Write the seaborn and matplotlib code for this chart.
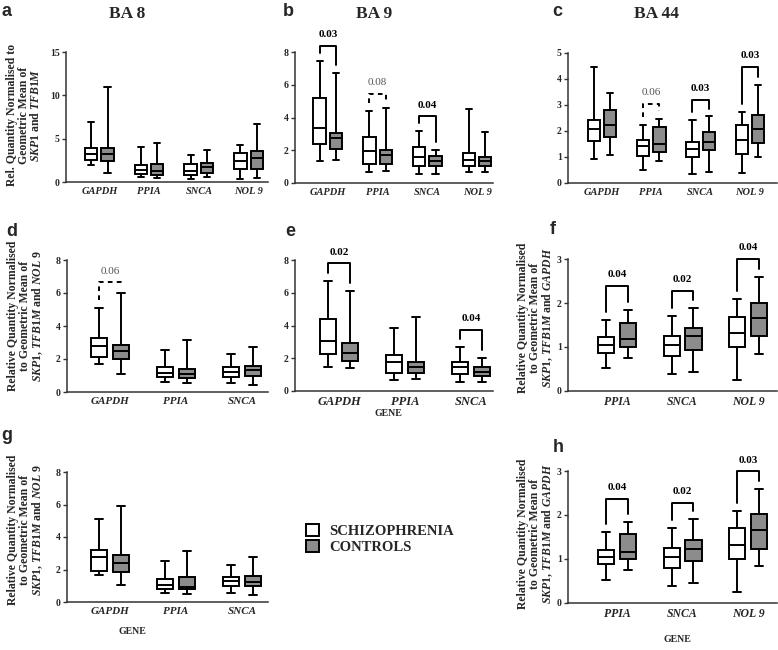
import numpy as np
import pandas as pd
import matplotlib
matplotlib.use("Agg")
import matplotlib.pyplot as plt
import seaborn as sns

sns.set_style("ticks")
plt.rcParams["font.family"] = ["Liberation Serif", "DejaVu Serif"]
plt.rcParams["font.weight"] = "bold"
plt.rcParams["mathtext.fontset"] = "custom"
plt.rcParams["mathtext.it"] = "Liberation Serif:italic:bold"
plt.rcParams["mathtext.rm"] = "Liberation Serif:bold"
plt.rcParams["mathtext.bf"] = "Liberation Serif:bold"

W, H = 778, 650
GROUPS = ["SCHIZOPHRENIA", "CONTROLS"]
COLORS = {"SCHIZOPHRENIA": "white", "CONTROLS": "#8c8c8c"}

# five-number summaries per gene: min, q1, median, q3, max
genes_abc = ["GAPDH", "PPIA", "SNCA", "NOL 9"]
genes_deg = ["GAPDH", "PPIA", "SNCA"]
genes_fh = ["PPIA", "SNCA", "NOL 9"]

a_scz = [[2.00, 2.58, 3.23, 3.92, 6.92], [0.54, 0.92, 1.42, 2.00, 4.00],
         [0.31, 0.77, 1.31, 2.08, 3.15], [0.38, 1.54, 2.38, 3.31, 4.23]]
a_ctl = [[1.08, 2.46, 3.23, 3.92, 10.92], [0.46, 0.77, 1.31, 2.12, 4.46],
         [0.54, 1.00, 1.77, 2.23, 3.69], [0.46, 1.46, 2.77, 3.54, 6.69]]

b_scz = [[1.34, 2.40, 3.36, 5.21, 7.45], [0.65, 1.18, 1.96, 2.79, 4.38],
         [0.53, 1.06, 1.59, 2.20, 3.16], [0.67, 1.04, 1.43, 1.83, 4.50]]
b_ctl = [[1.38, 2.06, 2.75, 3.08, 6.72], [0.73, 1.18, 1.69, 2.00, 4.60],
         [0.53, 1.04, 1.32, 1.65, 2.04], [0.67, 1.04, 1.34, 1.59, 3.10]]

c_scz = [[0.94, 1.60, 2.06, 2.41, 4.46], [0.51, 1.03, 1.41, 1.64, 2.24],
         [0.36, 1.00, 1.32, 1.58, 2.42], [0.38, 1.13, 1.64, 2.22, 2.73]]
c_ctl = [[1.06, 1.77, 2.22, 2.79, 3.46], [0.83, 1.19, 1.51, 2.15, 2.47],
         [0.42, 1.28, 1.58, 1.96, 2.56], [1.00, 1.54, 2.09, 2.60, 3.76]]

d_scz = [[1.68, 2.13, 2.79, 3.28, 5.10], [0.61, 0.91, 1.15, 1.52, 2.53],
         [0.55, 0.91, 1.19, 1.52, 2.31]]
d_ctl = [[1.11, 2.02, 2.49, 2.83, 5.97], [0.55, 0.85, 1.07, 1.42, 3.18],
         [0.45, 0.99, 1.32, 1.60, 2.73]]

e_scz = [[1.49, 2.24, 3.05, 4.38, 6.74], [0.67, 1.08, 1.79, 2.20, 3.83],
         [0.57, 1.04, 1.49, 1.79, 2.71]]
e_ctl = [[1.38, 1.85, 2.30, 2.91, 6.13], [0.71, 1.08, 1.49, 1.79, 4.50],
         [0.55, 0.94, 1.18, 1.49, 2.02]]

f_scz = [[0.52, 0.87, 1.05, 1.22, 1.62], [0.39, 0.80, 1.05, 1.24, 1.71],
         [0.24, 0.99, 1.31, 1.68, 2.09]]
f_ctl = [[0.74, 0.99, 1.18, 1.54, 1.85], [0.44, 0.93, 1.24, 1.43, 1.88],
         [0.84, 1.24, 1.67, 2.00, 2.59]]

g_scz = [[1.64, 1.89, 2.75, 3.22, 5.11], [0.55, 0.82, 1.03, 1.44, 2.50],
         [0.53, 0.98, 1.27, 1.56, 2.30]]
g_ctl = [[1.07, 1.85, 2.38, 2.87, 5.89], [0.49, 0.80, 0.90, 1.56, 3.16],
         [0.41, 0.98, 1.25, 1.60, 2.75]]

h_scz = [[0.52, 0.88, 1.05, 1.21, 1.61], [0.39, 0.80, 1.04, 1.24, 1.71],
         [0.24, 0.99, 1.31, 1.70, 2.09]]
h_ctl = [[0.75, 0.99, 1.16, 1.56, 1.85], [0.45, 0.95, 1.23, 1.44, 1.90],
         [0.85, 1.23, 1.67, 2.03, 2.60]]

# p-value annotations: gene index, label, significant, bracket height
b_notes = [(0, "0.03", True, 8.37), (1, "0.08", False, 5.46), (2, "0.04", True, 4.07)]
c_notes = [(1, "0.06", False, 3.05), (2, "0.03", True, 3.20), (3, "0.03", True, 4.46)]
d_notes = [(0, "0.06", False, 6.64)]
e_notes = [(0, "0.02", True, 7.80), (2, "0.04", True, 3.73)]
f_notes = [(0, "0.04", True, 2.39), (1, "0.02", True, 2.28), (2, "0.04", True, 3.00)]
h_notes = [(0, "0.04", True, 2.37), (1, "0.02", True, 2.27), (2, "0.03", True, 2.99)]


def to_frame(genes, scz, ctl):
    rows = []
    for gene, s, c in zip(genes, scz, ctl):
        rows += [(gene, GROUPS[0], v) for v in s]
        rows += [(gene, GROUPS[1], v) for v in c]
    return pd.DataFrame(rows, columns=["gene", "group", "value"])


def panel(box, genes, scz, ctl, ymax, ystep, xlim, notes=(), xsize=8, legend=False):
    l, r, t, b = box
    ax = fig.add_axes([l / W, 1 - b / H, (r - l) / W, (b - t) / H])
    df = to_frame(genes, scz, ctl)
    sns.boxplot(data=df, x="gene", y="value", hue="group", order=genes,
                hue_order=GROUPS, palette=COLORS, width=0.66, gap=0.25,
                whis=(0, 100), linewidth=1.4, linecolor="black", fliersize=0,
                legend=legend, ax=ax)
    ax.set_xlim(*xlim)
    ax.set_ylim(0, ymax)
    ax.set_yticks(np.arange(0, ymax + 0.01, ystep))
    ax.set_xlabel("")
    ax.set_ylabel("")
    sns.despine(ax=ax)
    for side in ["left", "bottom"]:
        ax.spines[side].set_color("#333333")
        ax.spines[side].set_linewidth(1.1)
    ax.tick_params(axis="y", length=3, width=1, pad=1.5, labelsize=7, color="#333333")
    ax.tick_params(axis="x", length=0, pad=3.5, labelsize=xsize)
    for lab in ax.get_xticklabels():
        lab.set_fontstyle("italic")
    for i, text, sig, bar_y in notes:
        x0, x1 = i - 0.165, i + 0.165
        pad = 0.06 * ymax
        ls = "-" if sig else (0, (2.4, 2.2))
        ax.plot([x0, x0, x1, x1], [scz[i][4] + pad, bar_y, bar_y, ctl[i][4] + pad],
                color="black", lw=1.4, ls=ls, clip_on=False)
        ax.text(i, bar_y + 0.085 * ymax, text, ha="center", va="center", fontsize=8,
                fontweight="bold" if sig else "normal",
                color="black" if sig else "#555555", clip_on=False)
    return ax


def ftext(x, y, s, **kw):
    fig.text(x / W, 1 - y / H, s, **kw)


fig = plt.figure(figsize=(W / 100, H / 100), dpi=100)

ax_a = panel((66, 268, 52, 182), genes_abc, a_scz, a_ctl, 15, 5, (-0.67, 3.39), xsize=7.5, legend=True)
panel((295, 493, 52, 183), genes_abc, b_scz, b_ctl, 8, 2, (-0.66, 3.32), b_notes, xsize=7.5)
panel((568, 777, 53, 183), genes_abc, c_scz, c_ctl, 5, 1, (-0.69, 3.55), c_notes, xsize=7.5)
panel((67, 268, 260, 392), genes_deg, d_scz, d_ctl, 8, 2, (-0.65, 2.39), d_notes, xsize=8)
panel((295, 493, 260, 391), genes_deg, e_scz, e_ctl, 8, 2, (-0.67, 2.33), e_notes, xsize=9)
panel((568, 777, 259, 391), genes_fh, f_scz, f_ctl, 3, 1, (-0.75, 2.44), f_notes, xsize=8.5)
panel((67, 268, 472, 602), genes_deg, g_scz, g_ctl, 8, 2, (-0.65, 2.39), xsize=8)
panel((568, 777, 471, 603), genes_fh, h_scz, h_ctl, 3, 1, (-0.75, 2.44), h_notes, xsize=8.5)

handles, labels = ax_a.get_legend_handles_labels()
ax_a.get_legend().remove()
fig.legend(handles, labels, loc="center left", bbox_to_anchor=(306 / W, 1 - 539 / H),
           frameon=False, prop=dict(family="Liberation Serif", weight="bold", size=10.5),
           handlelength=0.9, handleheight=0.9, handletextpad=0.7, labelspacing=0.1,
           borderpad=0, borderaxespad=0)

# panel letters and region titles
for letter, x, y in [("a", 2, 16), ("b", 283, 16), ("c", 552, 16), ("d", 6, 236),
                     ("e", 285, 236), ("f", 550, 234), ("g", 1, 440), ("h", 553, 452)]:
    ftext(x, y, letter, family="Liberation Sans", fontweight="bold", fontsize=13, va="baseline")
for title, x in [("BA 8", 127), ("BA 9", 374), ("BA 44", 657)]:
    ftext(x, 18, title, ha="center", va="baseline", fontsize=12.5)

for x, y in [(388, 413), (132, 632), (677, 640)]:
    ftext(x, y, "GENE", ha="center", va="center", fontsize=7)

lab_a = "Rel. Quantity Normalised to\nGeometric Mean of\n$\\mathit{SKP1}$ and $\\mathit{TFB1M}$"
lab_dg = ("Relative Quantity Normalised\nto Geometric Mean of\n"
          "$\\mathit{SKP1}$, $\\mathit{TFB1M}$ and $\\mathit{NOL\\ 9}$")
lab_fh = ("Relative Quantity Normalised\nto Geometric Mean of\n"
          "$\\mathit{SKP1}$, $\\mathit{TFB1M}$ and $\\mathit{GAPDH}$")
ftext(24, 115, lab_a, rotation=90, ha="center", va="center", fontsize=8.5, linespacing=0.95)
ftext(26, 316, lab_dg, rotation=90, ha="center", va="center", fontsize=8.5, linespacing=0.95)
ftext(26, 530, lab_dg, rotation=90, ha="center", va="center", fontsize=8.5, linespacing=0.95)
ftext(536, 318, lab_fh, rotation=90, ha="center", va="center", fontsize=8.5, linespacing=0.95)
ftext(536, 534, lab_fh, rotation=90, ha="center", va="center", fontsize=8.5, linespacing=0.95)

fig.savefig("out.png", dpi=100)
